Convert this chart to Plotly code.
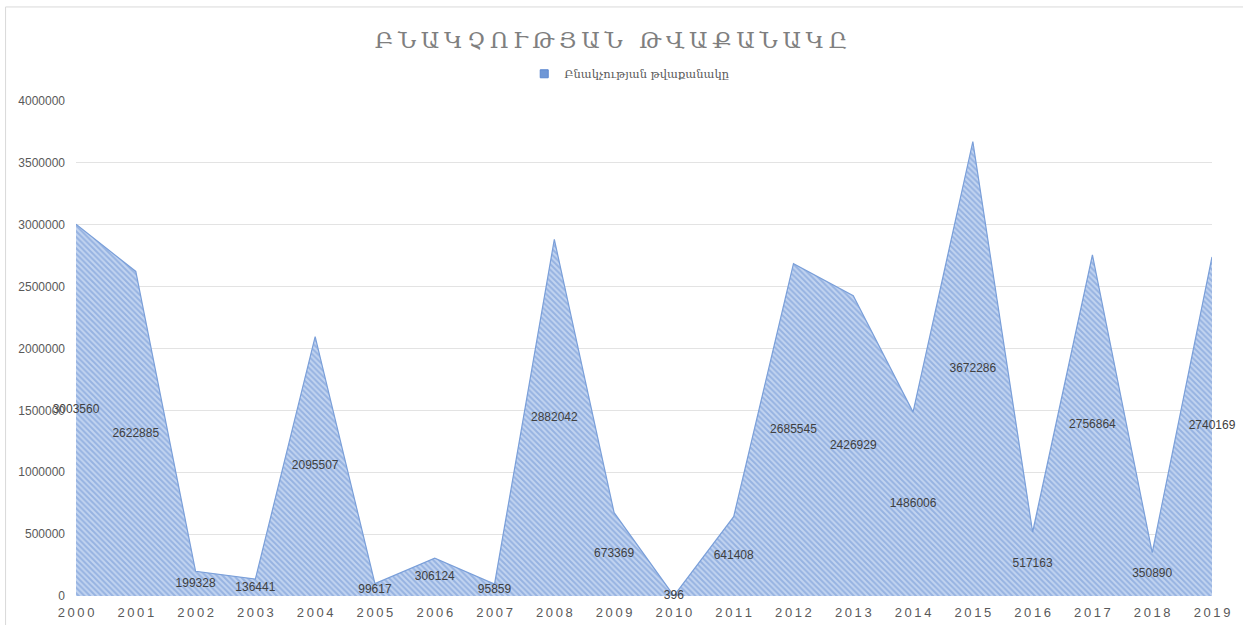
import plotly.graph_objects as go

years = list(range(2000, 2020))
population = [3003560, 2622885, 199328, 136441, 2095507, 99617, 306124, 95859,
              2882042, 673369, 396, 641408, 2685545, 2426929, 1486006, 3672286,
              517163, 2756864, 350890, 2740169]
y_ticks = [0, 500000, 1000000, 1500000, 2000000, 2500000, 3000000, 3500000, 4000000]
title_text = "ԲՆԱԿՉՈՒԹՅԱՆ ԹՎԱՔԱՆԱԿԸ"
series_name = "Բնակչության թվաքանակը"

SP = "\u2009"
x_ticktext = [SP.join(str(y)) for y in years]
title_spaced = SP.join(title_text)

fig = go.Figure()
fig.add_trace(go.Scatter(
    x=years, y=population, mode="lines", name=series_name,
    line=dict(color="#7a9fd9", width=1.2),
    fill="tozeroy",
    fillcolor="#a9c1ea",
    fillpattern=dict(shape="\\", fgcolor="#6a91d2", bgcolor="#c2d4f0", size=4, solidity=0.5),
    hoverinfo="x+y", showlegend=False,
))
# legend entry (square marker like the reference)
fig.add_trace(go.Scatter(
    x=[None], y=[None], mode="markers", name=series_name,
    marker=dict(symbol="square", size=8, color="#6f97d6", line=dict(color="#5b87cf", width=1)),
    showlegend=True,
))
fig.add_trace(go.Scatter(
    x=years, y=[v / 2 for v in population], mode="text",
    text=[str(v) for v in population],
    textposition="middle center",
    textfont=dict(family="Liberation Sans, Arial", size=12, color="#404040"),
    showlegend=False, hoverinfo="skip", cliponaxis=False,
))

fig.update_layout(
    width=1243, height=625,
    paper_bgcolor="white", plot_bgcolor="white",
    margin=dict(l=76, r=31, t=101, b=29, autoexpand=False),
    title=dict(text=title_spaced, x=0.4916, xanchor="center", y=0.936, yanchor="middle",
               font=dict(family="DejaVu Serif", size=23, color="#7f7f7f")),
    legend=dict(orientation="h", x=0.487, xanchor="center", y=1.055, yanchor="middle",
                font=dict(family="DejaVu Serif", size=11.5, color="#595959"),
                itemwidth=30, bgcolor="rgba(0,0,0,0)"),
    showlegend=True,
    xaxis=dict(range=[2000, 2019], tickvals=years, ticktext=x_ticktext,
               showgrid=False, zeroline=False, showline=False, ticks="",
               tickfont=dict(family="Liberation Sans, Arial", size=13, color="#595959"),
               ticklabelstandoff=7, automargin=False),
    yaxis=dict(range=[0, 4000000], tickvals=y_ticks, ticktext=[str(v) for v in y_ticks],
               showgrid=True, gridcolor="#e3e3e3", gridwidth=1, zeroline=False,
               showline=False, ticks="",
               tickfont=dict(family="Liberation Sans, Arial", size=12, color="#595959"),
               ticklabelstandoff=10, automargin=False),
    shapes=[
        dict(type="line", xref="paper", yref="paper", x0=-0.062, x1=1.03, y0=1.19, y1=1.19,
             line=dict(color="#d9d9d9", width=1)),
        dict(type="line", xref="paper", yref="paper", x0=-0.062, x1=-0.062, y0=1.19, y1=-0.07,
             line=dict(color="#d9d9d9", width=1)),
    ],
)

fig.write_html("out.html", config={"displayModeBar": False},
               post_script="document.body.style.margin='0';document.body.style.overflow='hidden';")
